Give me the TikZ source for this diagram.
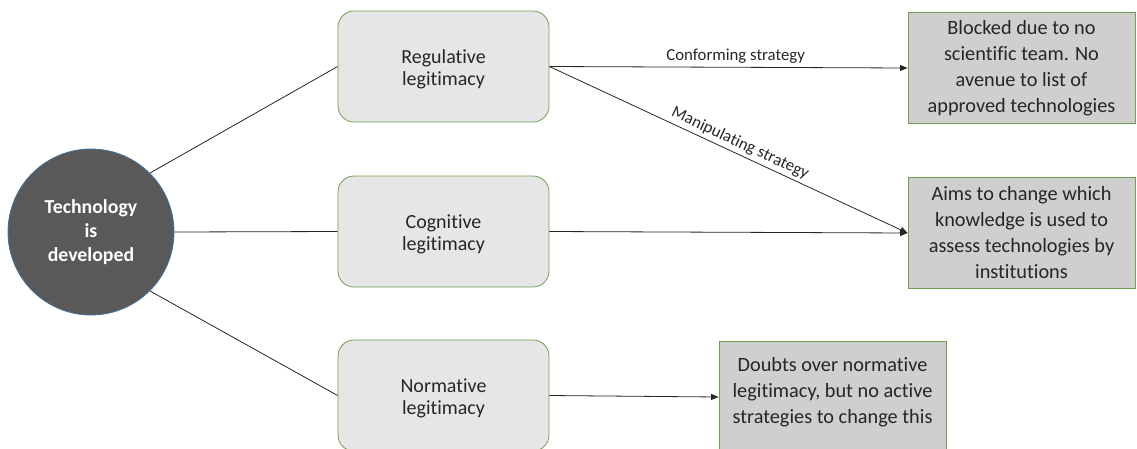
\documentclass[tikz,border=0pt]{standalone}
\usepackage{fontspec}
\setmainfont{Carlito}[Ligatures=NoCommon]
\usetikzlibrary{arrows.meta}
\definecolor{circfill}{HTML}{595959}
\definecolor{circline}{HTML}{41719C}
\definecolor{lightbox}{HTML}{E7E6E6}
\definecolor{darkbox}{HTML}{D0CECE}
\definecolor{greenline}{HTML}{70A050}
\definecolor{txt}{HTML}{262626}
\tikzset{
  hub/.style={circle, fill=circfill, draw=circline, line width=0.8pt, minimum size=166pt, inner sep=0pt,
    text=white, align=center, font=\fontsize{19.8}{24}\selectfont\bfseries},
  legit/.style={rectangle, rounded corners=16pt, fill=lightbox, draw=greenline, line width=0.8pt,
    minimum width=211pt, minimum height=111pt, inner sep=0pt, align=center, text=txt,
    font=\fontsize{20}{22}\selectfont},
  outcome/.style={rectangle, fill=darkbox, draw=greenline, line width=0.9pt,
    minimum width=227pt, minimum height=111pt, inner sep=0pt, align=center, text=txt,
    font=\fontsize{20.3}{26}\selectfont},
  link/.style={draw=txt, line width=0.8pt},
  flow/.style={draw=txt, line width=0.8pt, -{Triangle[length=7.5pt,width=6pt]}},
  lbl/.style={font=\fontsize{16.8}{18}\selectfont, text=txt, inner sep=3pt}
}
\begin{document}
\begin{tikzpicture}[x=1pt,y=-1pt]
\useasboundingbox (0,0) rectangle (1137,448);
\node[hub] (c) at (91,232) {Technology\\is\\developed};
\node[legit] (reg) at (443.5,66.5) {Regulative\\legitimacy\\[-24pt]};
\node[legit] (cog) at (443.5,231.5) {Cognitive\\legitimacy\\[-24pt]};
\node[legit] (norm) at (443.5,395.5) {Normative\\legitimacy\\[-24pt]};
\node[outcome] (blk) at (1021.5,68) {Blocked due to no\\scientific team. No\\avenue to list of\\approved technologies};
\node[outcome] (aims) at (1021.5,233) {Aims to change which\\knowledge is used to\\assess technologies by\\institutions};
\node[outcome] (dbt) at (832.5,397) {Doubts over normative\\legitimacy, but no active\\strategies to change this\\[-12pt]};
\draw[link] (c.45) -- (reg.west);
\draw[link] (c.east) -- (cog.west);
\draw[link] (c.-45) -- (norm.west);
\draw[flow] (reg.east) -- node[lbl, above, pos=0.52] {Conforming strategy} (blk.west);
\draw[flow] (reg.east) -- node[lbl, above, sloped, pos=0.52] {Manipulating strategy} (aims.west);
\draw[flow] (cog.east) -- (aims.west);
\draw[flow] (norm.east) -- (dbt.west);
\end{tikzpicture}
\end{document}
